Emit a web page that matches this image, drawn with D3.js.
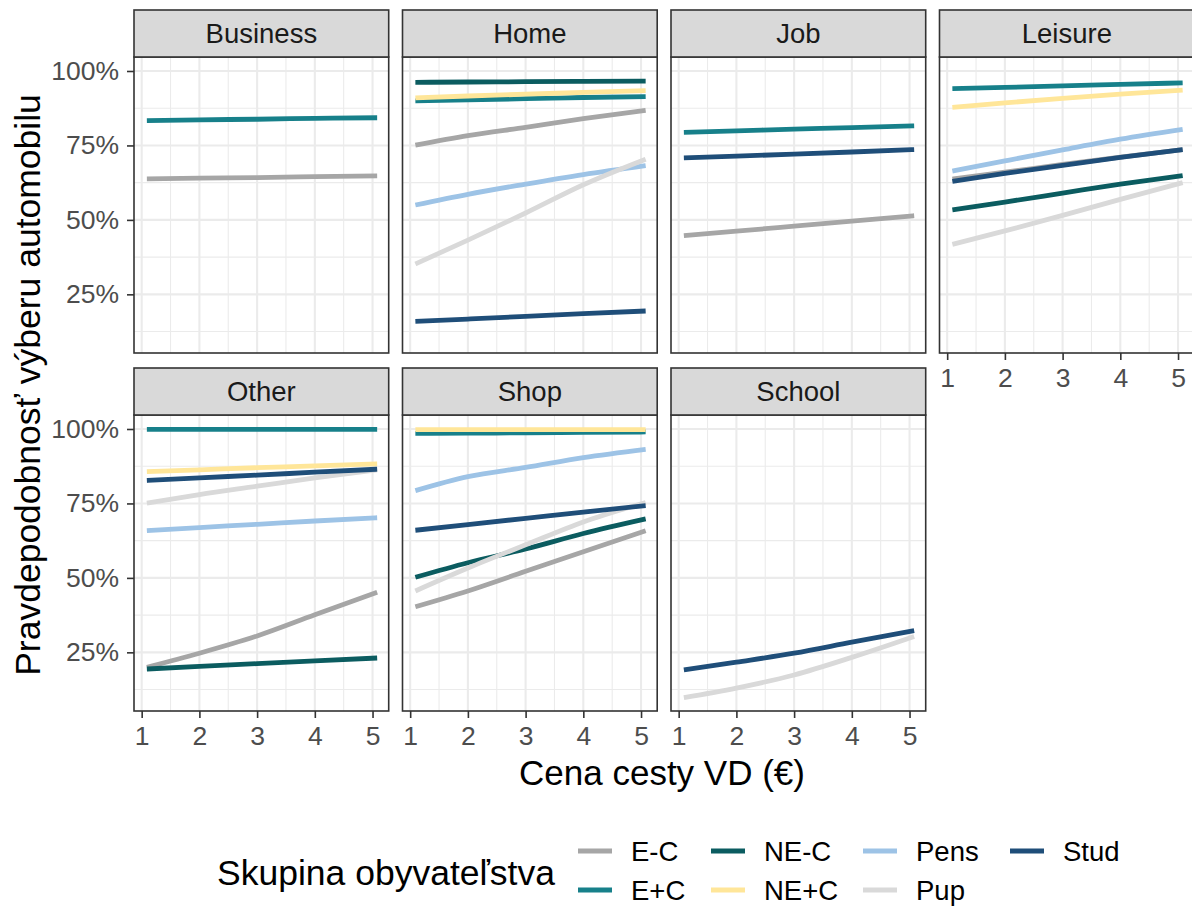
<!DOCTYPE html>
<html>
<head>
<meta charset="utf-8">
<script src="https://cdn.jsdelivr.net/npm/d3@7"></script>
<style>
  html, body { margin: 0; padding: 0; background: #ffffff; }
  svg { display: block; font-family: "Liberation Sans", Arial, sans-serif; }
</style>
</head>
<body>
<svg id="chart" width="1192" height="906"></svg>
<script>
// Trip cost (x positions of the model curves) and axis ticks
const costs = [1.09, 2, 3, 4, 5.08];
const xTicks = [1, 2, 3, 4, 5];
const yTicks = [0.25, 0.5, 0.75, 1.0];

// Population groups and their colours
const groups = ["E-C", "E+C", "NE-C", "NE+C", "Pens", "Pup", "Stud"];
const groupColors = ["#A6A6A6", "#17808A", "#0B5C60", "#FFE699", "#9DC3E6", "#D9D9D9", "#1F4E79"];

// Probability of choosing the car, per trip purpose and group
const business = [
  ["E-C",  [0.638, 0.640, 0.642, 0.645, 0.648]],
  ["E+C",  [0.833, 0.836, 0.838, 0.841, 0.843]]
];
const home = [
  ["E-C",  [0.751, 0.783, 0.811, 0.840, 0.868]],
  ["E+C",  [0.900, 0.903, 0.907, 0.911, 0.914]],
  ["NE-C", [0.962, 0.963, 0.964, 0.965, 0.966]],
  ["NE+C", [0.910, 0.916, 0.922, 0.928, 0.934]],
  ["Pens", [0.550, 0.586, 0.620, 0.652, 0.682]],
  ["Pup",  [0.352, 0.432, 0.523, 0.618, 0.704]],
  ["Stud", [0.159, 0.167, 0.176, 0.185, 0.194]]
];
const job = [
  ["E-C",  [0.447, 0.462, 0.479, 0.496, 0.514]],
  ["E+C",  [0.794, 0.799, 0.805, 0.810, 0.816]],
  ["Stud", [0.708, 0.714, 0.721, 0.728, 0.736]]
];
const leisure = [
  ["E-C",  [0.637, 0.660, 0.686, 0.711, 0.736]],
  ["E+C",  [0.941, 0.945, 0.950, 0.955, 0.960]],
  ["NE-C", [0.534, 0.560, 0.590, 0.620, 0.649]],
  ["NE+C", [0.878, 0.893, 0.908, 0.922, 0.936]],
  ["Pens", [0.664, 0.698, 0.735, 0.771, 0.804]],
  ["Pup",  [0.418, 0.463, 0.515, 0.569, 0.625]],
  ["Stud", [0.629, 0.656, 0.683, 0.710, 0.736]]
];
const other = [
  ["E-C",  [0.200, 0.247, 0.305, 0.376, 0.452]],
  ["E+C",  [0.999, 0.999, 0.999, 0.999, 0.999]],
  ["NE-C", [0.194, 0.203, 0.212, 0.221, 0.231]],
  ["NE+C", [0.857, 0.863, 0.870, 0.876, 0.883]],
  ["Pens", [0.659, 0.669, 0.680, 0.691, 0.702]],
  ["Pup",  [0.751, 0.780, 0.808, 0.836, 0.863]],
  ["Stud", [0.827, 0.836, 0.845, 0.855, 0.865]]
];
const shop = [
  ["E-C",  [0.403, 0.456, 0.522, 0.588, 0.658]],
  ["E+C",  [0.985, 0.986, 0.987, 0.989, 0.990]],
  ["NE-C", [0.502, 0.551, 0.597, 0.649, 0.698]],
  ["NE+C", [0.998, 0.998, 0.998, 0.998, 0.998]],
  ["Pens", [0.793, 0.840, 0.871, 0.904, 0.932]],
  ["Pup",  [0.456, 0.533, 0.611, 0.688, 0.753]],
  ["Stud", [0.660, 0.679, 0.700, 0.721, 0.743]]
];
const school = [
  ["Pup",  [0.098, 0.130, 0.174, 0.233, 0.303]],
  ["Stud", [0.191, 0.217, 0.247, 0.284, 0.323]]
];

const purposes = ["Business", "Home", "Job", "Leisure", "Other", "Shop", "School"];
const purposeData = [business, home, job, leisure, other, shop, school];

const svg = d3.select("#chart");
const color = d3.scaleOrdinal().domain(groups).range(groupColors);

// Facet grid geometry
const left0 = 134, panelW = 254.7, stepX = 268.5;
const rowTop = [10, 368], stripH = 47, panelH = 296;
const nCol = 4;

const fmtPct = d => Math.round(d * 100) + "%";

purposes.forEach((name, i) => {
  const col = i % nCol, row = Math.floor(i / nCol);
  const px = left0 + col * stepX;
  const sy = rowTop[row];
  const py = sy + stripH;

  const x = d3.scaleLinear().domain([0.867, 5.28]).range([px, px + panelW]);
  const y = d3.scaleLinear().domain([0.053, 1.047]).range([py + panelH, py]);

  const g = svg.append("g");

  // panel background
  g.append("rect").attr("x", px).attr("y", py).attr("width", panelW).attr("height", panelH)
    .attr("fill", "#ffffff");

  const clipId = "clip" + i;
  svg.append("clipPath").attr("id", clipId)
    .append("rect").attr("x", px).attr("y", py).attr("width", panelW).attr("height", panelH);

  const grid = g.append("g").attr("clip-path", `url(#${clipId})`);
  // minor grid
  const xMinor = [1.5, 2.5, 3.5, 4.5];
  const yMinor = [0.125, 0.375, 0.625, 0.875];
  grid.selectAll(".xminor").data(xMinor).join("line")
    .attr("x1", d => x(d)).attr("x2", d => x(d)).attr("y1", py).attr("y2", py + panelH)
    .attr("stroke", "#EBEBEB").attr("stroke-width", 1.1);
  grid.selectAll(".yminor").data(yMinor).join("line")
    .attr("y1", d => y(d)).attr("y2", d => y(d)).attr("x1", px).attr("x2", px + panelW)
    .attr("stroke", "#EBEBEB").attr("stroke-width", 1.1);
  // major grid
  grid.selectAll(".xmajor").data(xTicks).join("line")
    .attr("x1", d => x(d)).attr("x2", d => x(d)).attr("y1", py).attr("y2", py + panelH)
    .attr("stroke", "#EBEBEB").attr("stroke-width", 2.1);
  grid.selectAll(".ymajor").data(yTicks).join("line")
    .attr("y1", d => y(d)).attr("y2", d => y(d)).attr("x1", px).attr("x2", px + panelW)
    .attr("stroke", "#EBEBEB").attr("stroke-width", 2.1);

  // curves
  const line = d3.line().x(d => x(d[0])).y(d => y(d[1])).curve(d3.curveMonotoneX);
  const series = purposeData[i].slice().sort((a, b) => groups.indexOf(a[0]) - groups.indexOf(b[0]));
  grid.selectAll(".curve").data(series).join("path")
    .attr("d", s => line(costs.map((c, k) => [c, s[1][k]])))
    .attr("fill", "none")
    .attr("stroke", s => color(s[0]))
    .attr("stroke-width", 4.8)
    .attr("stroke-linecap", "butt")
    .attr("stroke-linejoin", "round");

  // panel border
  g.append("rect").attr("x", px).attr("y", py).attr("width", panelW).attr("height", panelH)
    .attr("fill", "none").attr("stroke", "#333333").attr("stroke-width", 1.6);

  // strip
  g.append("rect").attr("x", px).attr("y", sy).attr("width", panelW).attr("height", stripH)
    .attr("fill", "#D9D9D9").attr("stroke", "#333333").attr("stroke-width", 1.6);
  g.append("text").attr("x", px + panelW / 2).attr("y", sy + stripH / 2).attr("dy", "0.36em")
    .attr("text-anchor", "middle").attr("fill", "#1A1A1A").attr("font-size", 27.5)
    .text(name);

  // x axis on panels with nothing below them
  const hasBelow = (i + nCol) < purposes.length;
  if (!hasBelow) {
    const ax = g.append("g").attr("transform", `translate(0,${py + panelH})`)
      .call(d3.axisBottom(x).tickValues(xTicks).tickSize(7).tickPadding(8).tickFormat(d3.format("d")));
    ax.select(".domain").remove();
    ax.selectAll(".tick line").attr("stroke", "#333333").attr("stroke-width", 1.6);
    ax.selectAll(".tick text").attr("fill", "#4D4D4D").attr("font-size", 26.5)
      .attr("font-family", "Liberation Sans, Arial, sans-serif");
  }
  // y axis on the first column
  if (col === 0) {
    const ay = g.append("g").attr("transform", `translate(${px},0)`)
      .call(d3.axisLeft(y).tickValues(yTicks).tickSize(7).tickPadding(8).tickFormat(fmtPct));
    ay.select(".domain").remove();
    ay.selectAll(".tick line").attr("stroke", "#333333").attr("stroke-width", 1.6);
    ay.selectAll(".tick text").attr("fill", "#4D4D4D").attr("font-size", 26.5)
      .attr("font-family", "Liberation Sans, Arial, sans-serif");
  }
});

// axis titles
svg.append("text").attr("x", 662).attr("y", 785).attr("text-anchor", "middle")
  .attr("fill", "#000000").attr("font-size", 35).text("Cena cesty VD (€)");
svg.append("text").attr("transform", "translate(40,385) rotate(-90)").attr("text-anchor", "middle")
  .attr("fill", "#000000").attr("font-size", 35.5).text("Pravdepodobnosť výberu automobilu");

// legend
const legend = svg.append("g");
legend.append("text").attr("x", 217).attr("y", 872).attr("dy", "0.36em")
  .attr("fill", "#000000").attr("font-size", 35.5).text("Skupina obyvateľstva");
const colX = [578, 711, 863, 1010];
const rowY = [851, 890];
groups.forEach((gname, k) => {
  const c = Math.floor(k / 2), r = k % 2;
  const kx = colX[c], ky = rowY[r];
  legend.append("line").attr("x1", kx).attr("x2", kx + 34).attr("y1", ky).attr("y2", ky)
    .attr("stroke", color(gname)).attr("stroke-width", 4.8);
  legend.append("text").attr("x", kx + 53).attr("y", ky).attr("dy", "0.36em")
    .attr("fill", "#000000").attr("font-size", 27.5).text(gname);
});
</script>
</body>
</html>
